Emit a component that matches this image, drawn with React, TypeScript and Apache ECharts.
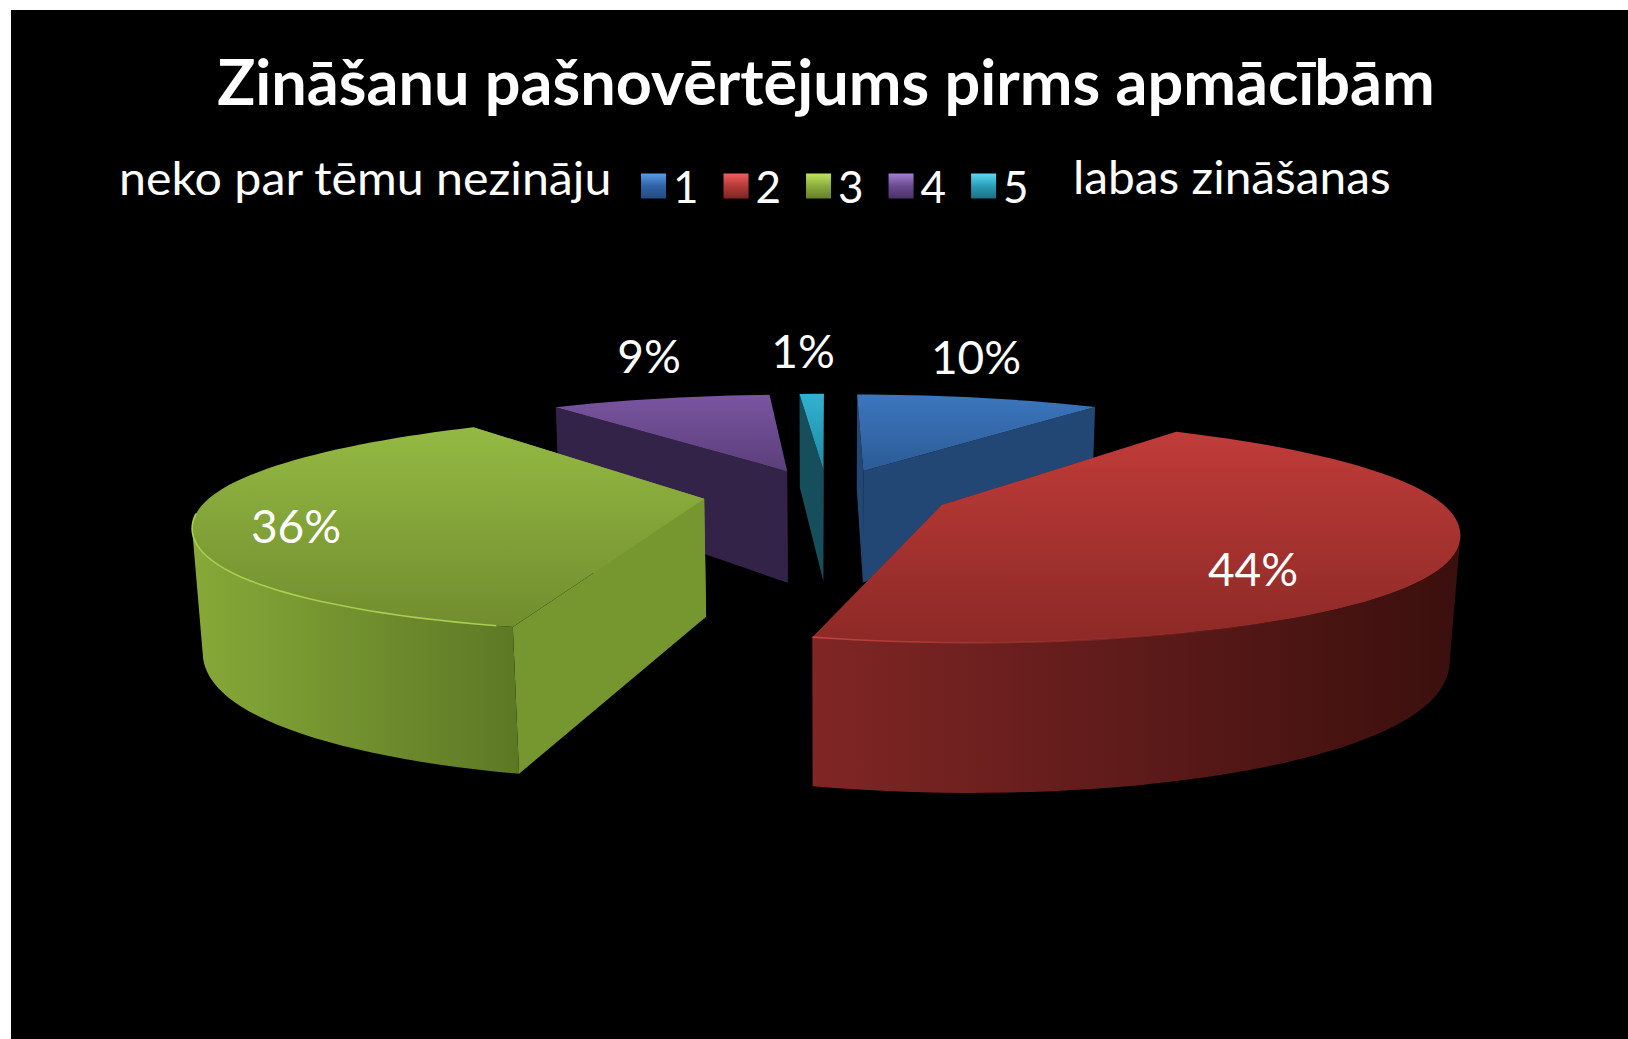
import React, { useEffect, useRef } from "react";
import * as echarts from "echarts";

// ---------- data ----------
const categories = ["1", "2", "3", "4", "5"];
const shares = [10, 44, 36, 9, 1];
const titleText = "Zināšanu pašnovērtējums pirms apmācībām";
const lowLabel = "neko par tēmu nezināju";
const highLabel = "labas zināšanas";

// ---------- styling / layout ----------
const FONT = "Lato";
const drawOrder = [4, 0, 3, 2, 1]; // back to front
const topColors = [
  ["#3C76BE", "#2C5B96"],
  ["#C03C39", "#8C2926"],
  ["#94B943", "#718D2E"],
  ["#7A55A0", "#5B3E7B"],
  ["#31B2D0", "#1F8AA3"],
];
const wallColors = ["#234774", "#5E1A19", "#76962F", "#332348", "#174E5C"];
const outerColors = [
  ["#2A5488", "#1E3E66"],
  ["#802625", "#3A0F0D"],
  ["#86A938", "#5D7825"],
  ["#3B2953", "#2E1F42"],
  ["#1A5A6A", "#154856"],
];
const legendColors = [
  ["#5A9BE8", "#2F62A6", "#234B80"],
  ["#F0605C", "#B43A38", "#7E2524"],
  ["#BFE35E", "#8CAD3D", "#657F2B"],
  ["#A57FD4", "#6A4A90", "#4A3368"],
  ["#5FD8F2", "#2A9DB8", "#1C6F84"],
];
const labelAnchors = [
  [976, 356],
  [1253, 568],
  [296, 525],
  [649, 355],
  [803, 350],
];

// Perspective model of the exploded pie (unit radius)
const CX = 827;
const CY = 494;
const EXPLODE = 0.25;
const THICK = 0.245;
const SIN_T = 0.206;
const COS_T = 0.979;
const W0 = 0.00202;
const KV = 0.00044;
const KZ = 0.00013;
const BLUNT = 0.014;
const BLUNT_WIDTH = 22;

const project = (u: number, v: number, z: number) => {
  const w = W0 - KV * v - KZ * z;
  return [CX + u / w, CY + (v * SIN_T - z * COS_T) / w];
};

const rad = (d: number) => (d * Math.PI) / 180;
const total = shares.reduce((a, b) => a + b, 0);
const rimRadius = (a: number) =>
  1 -
  BLUNT *
    (Math.exp(-(((a - 255) / BLUNT_WIDTH) ** 2)) + Math.exp(-(((a - 105) / BLUNT_WIDTH) ** 2)));

const vGrad = (c: string[]) =>
  new echarts.graphic.LinearGradient(0, 0, 0, 1, [
    { offset: 0, color: c[0] },
    { offset: 1, color: c[1] },
  ]);
const hGrad = (c: string[]) =>
  new echarts.graphic.LinearGradient(0, 0, 1, 0, [
    { offset: 0, color: c[0] },
    { offset: 1, color: c[1] },
  ]);

function renderSlice(i: number) {
  const start = (shares.slice(0, i).reduce((a, b) => a + b, 0) / total) * 360;
  const end = start + (shares[i] / total) * 360;
  const mid = (start + end) / 2;
  const ox = EXPLODE * Math.sin(rad(mid));
  const oy = -EXPLODE * Math.cos(rad(mid));
  const pt = (a: number, r: number, z: number) =>
    project(ox + r * Math.sin(rad(a)), oy - r * Math.cos(rad(a)), z);
  const arc = (from: number, to: number, z: number) => {
    const n = Math.max(2, Math.ceil(Math.abs(to - from) / 2));
    const out: number[][] = [];
    for (let k = 0; k <= n; k++) {
      const a = from + ((to - from) * k) / n;
      out.push(pt(a, rimRadius(a), z));
    }
    return out;
  };
  // silhouette: the outer wall is only seen between the two side tips of the rim
  let rightTip = 90;
  let leftTip = 270;
  for (let a = 0; a <= 360; a += 0.5) {
    const x = pt(a, rimRadius(a), 0)[0];
    if (x > pt(rightTip, rimRadius(rightTip), 0)[0]) rightTip = a;
    if (x < pt(leftTip, rimRadius(leftTip), 0)[0]) leftTip = a;
  }
  const frontFrom = Math.max(start, rightTip);
  const frontTo = Math.min(end, leftTip);

  const wall = (a: number) => ({
    type: "polygon",
    shape: {
      points: [pt(a, 0, 0), pt(a, rimRadius(a), 0), pt(a, rimRadius(a), -THICK), pt(a, 0, -THICK)],
    },
    style: { fill: wallColors[i] },
    silent: true,
  });
  const children: any[] = [wall(start), wall(end)];
  if (frontTo > frontFrom) {
    children.push({
      type: "polygon",
      shape: { points: [...arc(frontFrom, frontTo, 0), ...arc(frontFrom, frontTo, -THICK).reverse()] },
      style: { fill: hGrad(outerColors[i]) },
    });
  }
  children.push({
    type: "polygon",
    shape: { points: [pt(start, 0, 0), ...arc(start, end, 0)] },
    style: { fill: vGrad(topColors[i]) },
  });
  // thin bevel highlight on the front rim
  if (categories[i] === "3") {
    children.push({
      type: "polyline",
      shape: { points: arc(Math.max(start, 196), 262, 0) },
      style: { stroke: "#A9CE52", lineWidth: 1.6, fill: "none" },
    });
  }
  if (categories[i] === "2") {
    children.push({
      type: "polyline",
      shape: { points: arc(end, 150, 0) },
      style: {
        stroke: new echarts.graphic.LinearGradient(0, 0, 1, 0, [
          { offset: 0, color: "#C24442" },
          { offset: 1, color: "rgba(160,50,48,0)" },
        ]),
        lineWidth: 1.6,
        fill: "none",
      },
    });
  }
  children.push({
    type: "text",
    x: labelAnchors[i][0],
    y: labelAnchors[i][1],
    style: {
      text: `${shares[i]}%`,
      fill: "#FFFFFF",
      font: `400 46px ${FONT}`,
      align: "center",
      verticalAlign: "middle",
    },
  });
  return { type: "group", children };
}

export default function App() {
  const ref = useRef<HTMLDivElement>(null);
  useEffect(() => {
    const chart = echarts.init(ref.current!, null, { renderer: "svg" });
    chart.setOption({
      animation: false,
      backgroundColor: "#FFFFFF",
      title: {
        text: titleText,
        left: 821,
        top: 44,
        textAlign: "center",
        textStyle: { color: "#FFFFFF", fontFamily: FONT, fontWeight: 700, fontSize: 63 },
      },
      legend: {
        left: 641,
        top: 164,
        padding: 0,
        itemWidth: 25,
        itemHeight: 25,
        itemGap: 25,
        icon: "rect",
        textStyle: { color: "#FFFFFF", fontFamily: FONT, fontSize: 44, padding: [0, 0, 6, 2] },
        data: categories.map((name, i) => ({
          name,
          itemStyle: {
            color: new echarts.graphic.LinearGradient(0, 0, 0, 1, [
              { offset: 0, color: legendColors[i][0] },
              { offset: 0.5, color: legendColors[i][1] },
              { offset: 1, color: legendColors[i][2] },
            ]),
          },
        })),
      },
      graphic: [
        {
          type: "rect",
          z: 0,
          shape: { x: 11, y: 10, width: 1617, height: 1029 },
          style: { fill: "#000000" },
          silent: true,
        },
        {
          type: "text",
          z: 10,
          x: 119,
          y: 177,
          scaleX: 1.05,
          style: { text: lowLabel, fill: "#FFFFFF", font: `400 46px ${FONT}`, verticalAlign: "middle" },
        },
        {
          type: "text",
          z: 10,
          x: 1073,
          y: 176,
          scaleX: 1.04,
          style: { text: highLabel, fill: "#FFFFFF", font: `400 46px ${FONT}`, verticalAlign: "middle" },
        },
      ],
      series: drawOrder.map((i) => ({
        type: "custom",
        name: categories[i],
        coordinateSystem: "none",
        data: [shares[i]],
        itemStyle: { color: topColors[i][0] },
        renderItem: () => renderSlice(i),
      })),
    });
    return () => chart.dispose();
  }, []);
  return <div ref={ref} style={{ position: "fixed", left: 0, top: 0, width: 1628, height: 1039 }} />;
}
